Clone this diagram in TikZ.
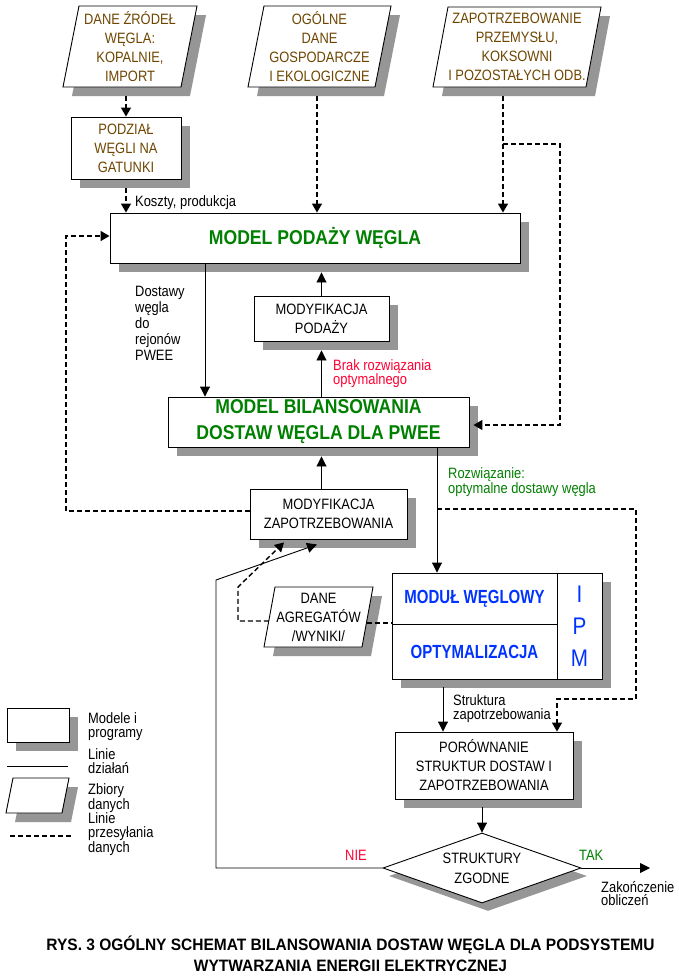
\documentclass[tikz,border=0pt]{standalone}
\usepackage{fontspec}
\setmainfont{Liberation Sans}[FakeStretch=0.86]
\newfontfamily\grfont{Liberation Sans}[FakeStretch=0.88]
\newfontfamily\blfont{Liberation Sans}[FakeStretch=0.79]
\newfontfamily\capfont{Liberation Sans}[FakeStretch=0.94]
\usetikzlibrary{arrows.meta,shapes.geometric,shadows}
\definecolor{brn}{RGB}{110,70,0}
\definecolor{dgr}{RGB}{0,128,0}
\definecolor{blu}{RGB}{0,51,255}
\definecolor{rd}{RGB}{255,0,51}
\definecolor{shc}{RGB}{150,150,150}
\tikzset{
 sh/.style={drop shadow={shadow xshift=9pt, shadow yshift=-9pt, opacity=1, fill=shc}},
 box/.style={draw, line width=0.9pt, fill=white, inner sep=0pt, align=center, font=\fontsize{15}{19}\selectfont, sh},
 txt/.style={inner sep=0pt, align=center, font=\fontsize{15}{19}\selectfont},
 lbl/.style={inner sep=0pt, align=left, anchor=north west, font=\fontsize{15}{15}\selectfont},
 sarr/.style={line width=0.9pt, -{Triangle[length=10pt,width=10pt]}},
 darr/.style={line width=1.4pt, dash pattern=on 5pt off 3pt, -{Triangle[length=9pt,width=10pt]}},
 dln/.style={line width=1.2pt, dash pattern=on 5pt off 3pt},
 sln/.style={line width=0.9pt},
 outl/.style={draw, line width=0.9pt, fill=white},
 grn/.style={text=dgr, font=\grfont\bfseries\fontsize{20}{26}\selectfont},
 bln/.style={draw, line width=0.9pt, inner sep=0pt, text=blu, font=\blfont\bfseries\fontsize{19}{19}\selectfont},
}
% #1 options, #2 name, #3 cx, #4 cy, #5 W, #6 H, #7 slant, #8 text
\newcommand{\myds}[8][]{%
 \fill[shc] ({#3-#5/2+#7+9},{#4-#6/2+9}) -- ({#3+#5/2+9},{#4-#6/2+9}) -- ({#3+#5/2-#7+9},{#4+#6/2+9}) -- ({#3-#5/2+9},{#4+#6/2+9}) -- cycle;
 \draw[outl] ({#3-#5/2+#7},{#4-#6/2}) -- ({#3+#5/2},{#4-#6/2}) -- ({#3+#5/2-#7},{#4+#6/2}) -- ({#3-#5/2},{#4+#6/2}) -- cycle;
 \node[txt, minimum width=#5, minimum height=#6, #1] (#2) at (#3,#4) {#8};
}
\begin{document}
\begin{tikzpicture}[x=1pt,y=-1pt]
\useasboundingbox[fill=white] (0,0) rectangle (678,978);

% data sets
\myds[text=brn]{p1}{130}{46.5}{134}{81}{16}{DANE ŹRÓDEŁ\\WĘGLA:\\KOPALNIE,\\IMPORT}
\myds[text=brn]{p2}{319.5}{46.5}{143}{81}{16}{OGÓLNE\\DANE\\GOSPODARCZE\\I EKOLOGICZNE}
\myds[text=brn]{p3}{517}{47}{168}{80}{15}{ZAPOTRZEBOWANIE\\PRZEMYSŁU,\\KOKSOWNI\\I POZOSTAŁYCH ODB.}
\myds{dagr}{318.5}{617}{109}{60}{11}{DANE\\AGREGATÓW\\/WYNIKI/}
\myds{legp}{37.5}{795.5}{63}{35}{7}{}

% boxes
\node[box, text=brn, minimum width=110, minimum height=62] (podz) at (126,148) {PODZIAŁ\\WĘGLI NA\\GATUNKI};
\node[box, grn, minimum width=410, minimum height=50] (mpz) at (315,238) {MODEL PODAŻY WĘGLA};
\node[box, minimum width=135, minimum height=45] (mpod) at (321.5,318.5) {MODYFIKACJA\\PODAŻY};
\node[box, grn, minimum width=301, minimum height=50] (bil) at (318.5,422) {MODEL BILANSOWANIA\\DOSTAW WĘGLA DLA PWEE};
\node[box, minimum width=157, minimum height=50] (mzap) at (328.5,514) {MODYFIKACJA\\ZAPOTRZEBOWANIA};
\node[box, minimum width=210, minimum height=106] (ipmbox) at (497,626) {};
\node[bln, minimum width=165, minimum height=51] (modw) at (474.5,598.5) {MODUŁ WĘGLOWY};
\node[bln, minimum width=165, minimum height=55] (opt) at (474.5,651.5) {OPTYMALIZACJA};
\node[draw, line width=0.9pt, inner sep=0pt, minimum width=45, minimum height=106, text=blu, align=center, font=\fontsize{24}{32}\selectfont] (ipm) at (579.5,626) {I\\P\\M};
\node[box, minimum width=178, minimum height=67] (por) at (484,765.5) {PORÓWNANIE\\STRUKTUR DOSTAW I\\ZAPOTRZEBOWANIA};
\node[diamond, draw, line width=0.9pt, fill=white, inner sep=0pt, aspect=2.8, minimum width=198, minimum height=70, align=center, font=\fontsize{15}{20}\selectfont, drop shadow={shadow xshift=6pt, shadow yshift=-8pt, opacity=1, fill=shc}] (dia) at (482,868) {STRUKTURY\\ZGODNE};

% legend
\node[box, minimum width=62, minimum height=34] (legr) at (38,725) {};
\coordinate (lsa) at (7,766); \coordinate (lsb) at (68,766);
\draw[sln] (lsa) -- (lsb);
\coordinate (lda) at (10,836); \coordinate (ldb) at (71,836);
\draw[dln] (lda) -- (ldb);
\node[lbl, font=\fontsize{15}{14}\selectfont] (lmod) at (88,712) {Modele i\\programy};
\node[lbl, font=\fontsize{15}{14}\selectfont] (llin) at (88,748) {Linie\\działań};
\node[lbl, font=\fontsize{15}{13.5}\selectfont] (lzb) at (88,783) {Zbiory\\danych};
\node[lbl, font=\fontsize{15}{14.5}\selectfont] (lprz) at (88,812) {Linie\\przesyłania\\danych};

% connectors
\draw[darr] ([yshift=-9pt]p1.south -| podz.north) -- (podz.north);
\draw[darr] ([yshift=-9pt]podz.south) -- (podz.south |- mpz.north);
\node[lbl] (lkosz) at (135,195) {Koszty, produkcja};
\draw[darr] ([xshift=-2.5pt,yshift=-9pt]p2.south) -- ([xshift=-2.5pt]p2.south |- mpz.north);
\draw[darr] ([xshift=-14pt,yshift=-9pt]p3.south) -- ([xshift=-14pt]p3.south |- mpz.north);
\coordinate (br1) at (503,144);
\draw[darr] (br1) -- (560,144) |- ([xshift=4pt,yshift=-3pt]bil.east);
\draw[darr] ([yshift=3pt]mzap.west) -| (66,236) -- ([yshift=2pt]mpz.west);
\draw[sarr] ([xshift=-110pt]mpz.south) -- ([xshift=-110pt]mpz.south |- bil.north);
\node[lbl, font=\fontsize{15}{16}\selectfont] (ldost) at (135,286) {Dostawy\\węgla\\do\\rejonów\\PWEE};
\draw[sarr] (mpod.north) -- ([yshift=-9pt]mpod.north |- mpz.south);
\draw[sarr] (bil.north -| mpod.south) -- ([yshift=-9pt]mpod.south);
\node[lbl, text=rd, font=\fontsize{15}{14}\selectfont] (lbrak) at (333,359) {Brak rozwiązania\\optymalnego};
\draw[sarr] (mzap.north -| mpod.south) -- ([yshift=-9pt]bil.south -| mpod.south);
\draw[sarr] ([xshift=118.5pt]bil.south) -- ([xshift=118.5pt]bil.south |- ipmbox.north);
\node[lbl, text=dgr] (lrozw) at (448,467) {Rozwiązanie:\\optymalne dostawy węgla};
\coordinate (br2) at (437,509);
\draw[darr] (br2) -- (636,509) -- (636,699) -| ([xshift=73pt]por.north);
\draw[sarr] ([xshift=-41pt,yshift=-8pt]ipmbox.south -| por.north) -- ([xshift=-41pt]por.north);
\node[lbl, font=\fontsize{15}{14.5}\selectfont] (lstr) at (453,694) {Struktura\\zapotrzebowania};
\draw[sarr] ([yshift=-8pt]por.south -| dia.north) -- (dia.north);
\draw[sarr] (dia.west) -- (216,868) -- (216,580) -- ([xshift=-11.5pt,yshift=-5pt]mzap.south);
\node[lbl, text=rd] (lnie) at (345,850) {NIE};
\draw[darr] ([xshift=5pt,yshift=-4pt]dagr.west) -- (238,621) -- (238,587) -- ([xshift=-44.5pt,yshift=-3pt]mzap.south);
\draw[dln] ([xshift=-6pt,yshift=-6pt]dagr.east) -- ([yshift=-6pt]dagr.east -| ipmbox.west);
\coordinate (endc) at (650,868);
\draw[sarr] (dia.east) -- (endc);
\node[lbl, text=dgr] (ltak) at (579,850) {TAK};
\node[lbl, font=\fontsize{15}{13.5}\selectfont] (lzak) at (601,881) {Zakończenie\\obliczeń};

% caption
\node[font=\capfont\bfseries\fontsize{16.5}{20.5}\selectfont, align=center, inner sep=0pt, anchor=north] (cap) at (350.5,936) {RYS. 3 OGÓLNY SCHEMAT BILANSOWANIA DOSTAW WĘGLA DLA PODSYSTEMU\\WYTWARZANIA ENERGII ELEKTRYCZNEJ};
\end{tikzpicture}
\end{document}
